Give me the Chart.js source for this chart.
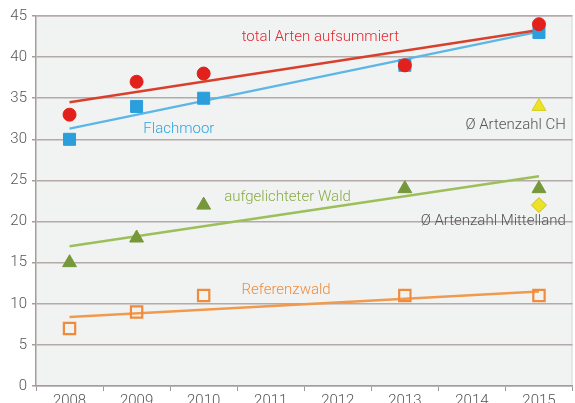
<!DOCTYPE html>
<html>
<head>
<meta charset="utf-8">
<script src="https://cdn.jsdelivr.net/npm/chart.js@4"></script>
<style>
html,body{margin:0;padding:0;background:#fff;}
#wrap{width:575px;height:403px;position:relative;}
</style>
</head>
<body>
<div id="wrap"><canvas id="c" width="575" height="403"></canvas></div>
<script>
// ---- data ----
const years = ['2008','2009','2010','2011','2012','2013','2014','2015'];
const totalArten   = [33, 37, 38, null, null, 39, null, 44];
const flachmoor    = [30, 34, 35, null, null, 39, null, 43];
const aufgelWald   = [15, 18, 22, null, null, 24, null, 24];
const referenzwald = [7, 9, 11, null, null, 11, null, 11];
const avgCH        = [null, null, null, null, null, null, null, 34];
const avgMittelland= [null, null, null, null, null, null, null, 22];
// trend lines (start 2008, end 2015)
const trendTotal   = [34.5, null, null, null, null, null, null, 43.3];
const trendFlach   = [31.3, null, null, null, null, null, null, 43.1];
const trendWald    = [17.0, null, null, null, null, null, null, 25.5];
const trendRef     = [8.4, null, null, null, null, null, null, 11.5];
const yTicks = [0,5,10,15,20,25,30,35,40,45];

// annotation texts
const noteTexts  = ['total Arten aufsummiert','Flachmoor','aufgelichteter Wald','Referenzwald','Ø Artenzahl CH','Ø Artenzahl Mittelland'];
const noteX      = [3.74, 1.63, 3.25, 3.23, 7.40, 7.40];
const noteY      = [42.4, 31.2, 23.0, 11.6, 31.7, 20.0];
const noteAlign  = ['center','center','center','center','right','right'];
const noteColors = ['#e3262e','#2da6df','#8aab45','#f08a3c','#555555','#555555'];

const FONT = 'Roboto, "Liberation Sans", Arial, sans-serif';

// do not let marker size enlarge the layout padding
Chart.LineController.prototype.getMaxOverflow = function(){ return 0; };

const bgPlugin = {
  id:'bg',
  beforeDraw(chart){
    const {ctx, chartArea:a} = chart;
    ctx.save();
    ctx.fillStyle = '#f1f3f3';
    ctx.fillRect(a.left, a.top, a.right-a.left, a.bottom-a.top);
    ctx.strokeStyle = '#d6d6d6';
    ctx.lineWidth = 1;
    ctx.beginPath();
    ctx.moveTo(a.left, a.top+0.5); ctx.lineTo(a.right-0.5, a.top+0.5); ctx.lineTo(a.right-0.5, a.bottom);
    ctx.stroke();
    ctx.restore();
  }
};
const notePlugin = {
  id:'notes',
  afterDatasetsDraw(chart){
    const {ctx, scales:{x,y}} = chart;
    ctx.save();
    ctx.font = '300 15px ' + FONT;
    ctx.textBaseline = 'middle';
    noteTexts.forEach((t,i)=>{
      ctx.fillStyle = noteColors[i];
      ctx.textAlign = noteAlign[i];
      ctx.fillText(t, x.getPixelForValue(noteX[i]), y.getPixelForValue(noteY[i]));
    });
    ctx.restore();
  }
};

function trend(data, color){
  return {type:'line', data, borderColor:color, borderWidth:2.5, pointRadius:0, spanGaps:true, fill:false, order:2};
}
function pts(data, style, r, bg, border, bw){
  return {type:'line', data, showLine:false, pointStyle:style, pointRadius:r, pointHoverRadius:r,
    pointBackgroundColor:bg, pointBorderColor:border, pointBorderWidth:bw, order:1};
}

new Chart(document.getElementById('c'), {
  data:{
    labels: years,
    datasets:[
      trend(trendTotal,'#d8402c'),
      trend(trendFlach,'#5cb6e6'),
      trend(trendWald,'#9cbf5a'),
      trend(trendRef,'#f09a4e'),
      pts(totalArten,'circle',6.5,'#e2201c','#e2201c',1),
      pts(flachmoor,'rect',8.5,'#2a9fdc','#2a9fdc',1),
      pts(aufgelWald,'triangle',8,'#76983a','#76983a',1),
      pts(referenzwald,'rect',8,'rgba(0,0,0,0)','#f08a3c',2.2),
      pts(avgCH,'triangle',8,'#ece227','#d8cf20',1),
      pts(avgMittelland,'rectRot',7.5,'#ece227','#c8c020',1)
    ]
  },
  options:{
    responsive:false,
    animation:false,
    events:[],
    layout:{padding:{top:16,right:2.5,left:0,bottom:0}},
    plugins:{legend:{display:false}, tooltip:{enabled:false}},
    scales:{
      x:{
        type:'category',
        offset:true,
        grid:{offset:true, drawOnChartArea:false, drawTicks:true, tickLength:5, color:'#9e9896', lineWidth:1},
        border:{display:true, color:'#a39d9b', width:1.5},
        ticks:{color:'#555', font:{family:FONT, size:15, weight:300}, padding:1, maxRotation:0, autoSkip:false},
        afterFit(s){ s.height = 17; s.paddingLeft = 0; s.paddingRight = 0; }
      },
      y:{
        min:0, max:45,
        afterBuildTicks(s){ s.ticks = yTicks.map(v=>({value:v})); },
        grid:{color:'#b4aaa8', lineWidth:1.5, borderDash:[2,2], tickLength:4, tickBorderDash:[], tickColor:'#a39d9b'},
        border:{display:true, color:'#a39d9b', width:1.5},
        ticks:{color:'#555', font:{family:FONT, size:15, weight:300}, padding:5},
        afterFit(s){ s.width = 36; s.paddingTop = 0; s.paddingBottom = 0; }
      }
    }
  },
  plugins:[bgPlugin, notePlugin]
});
</script>
</body>
</html>
